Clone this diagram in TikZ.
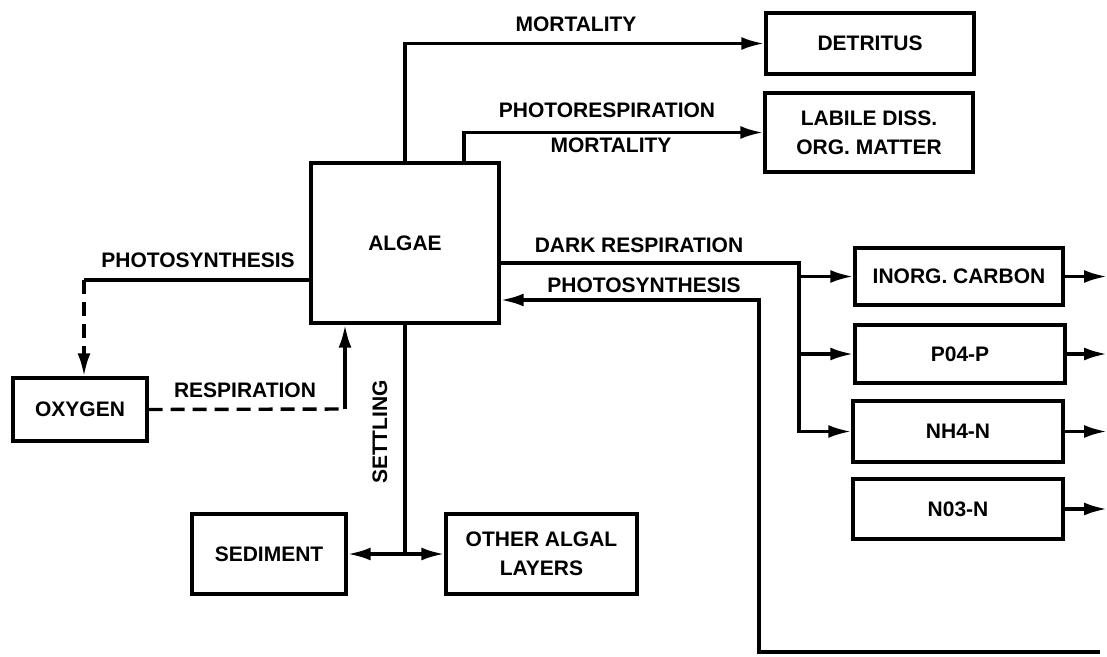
\documentclass[tikz,border=0pt]{standalone}
\usepackage{fontspec}
\setmainfont{Liberation Sans}
\usetikzlibrary{arrows.meta, calc}

\begin{document}
\begin{tikzpicture}[x=1pt, y=-1pt, line width=3.4pt,
  box/.style={draw, rectangle, inner sep=0pt, align=center, font=\fontsize{21}{29}\selectfont\bfseries},
  lbl/.style={inner sep=0pt, font=\fontsize{21}{24}\selectfont\bfseries},
  flow/.style={-{Latex[length=23pt,width=13pt]}},
  broken/.style={dash pattern=on 14pt off 8pt}]

\useasboundingbox (0,0) rectangle (1107,656);

% boxes
\node[box, minimum width=188pt, minimum height=160pt] (algae) at (405,243) {ALGAE};
\node[box, minimum width=208pt, minimum height=61pt] (detritus) at (870,43.5) {DETRITUS};
\node[box, minimum width=208pt, minimum height=79pt] (labile) at (869,132.5) {LABILE DISS.\\ORG. MATTER};
\node[box, minimum width=208pt, minimum height=57pt] (inorg) at (959,276.5) {INORG. CARBON};
\node[box, minimum width=210pt, minimum height=58pt] (po4) at (960,354) {P04-P};
\node[box, minimum width=210pt, minimum height=61pt] (nh4) at (958,431.5) {NH4-N};
\node[box, minimum width=210pt, minimum height=60pt] (no3) at (958,509) {N03-N};
\node[box, minimum width=134pt, minimum height=63pt] (oxygen) at (80,409.5) {OXYGEN};
\node[box, minimum width=154pt, minimum height=80pt] (sediment) at (269,554) {SEDIMENT};
\node[box, minimum width=191pt, minimum height=80pt] (other) at (541.5,554) {OTHER ALGAL\\LAYERS};

% labels
\node[lbl] (lblmort) at (576,24) {MORTALITY};
\node[lbl] (lblphotoresp) at (607,110) {PHOTORESPIRATION};
\node[lbl] (lblmorttwo) at (611,145) {MORTALITY};
\node[lbl] (lbldark) at (639,245) {DARK RESPIRATION};
\node[lbl] (lblphotoright) at (644,285) {PHOTOSYNTHESIS};
\node[lbl] (lblphotoleft) at (198,260) {PHOTOSYNTHESIS};
\node[lbl] (lblresp) at (245,390) {RESPIRATION};
\node[lbl, rotate=90] (lblsettle) at (380,432) {SETTLING};

% turning points
\coordinate (split) at (799,263);
\coordinate (bend) at (759,652);
\coordinate (uptake) at (1100,652);
\coordinate (oxturn) at (84,280);
\coordinate (respturn) at (345,409);
\coordinate (settle) at (405,554);
\coordinate (edge) at (1107,0);

% mortality and photorespiration
\draw[flow] (algae.north) |- (detritus.west);
\draw[flow] ([xshift=59pt]algae.north) |- (labile.west);

% dark respiration
\draw[flow] ([yshift=-20pt]algae.east) -- (split) |- (nh4.west);
\draw[flow] (split |- inorg.west) -- (inorg.west);
\draw[flow] (split |- po4.west) -- (po4.west);
\foreach \b in {inorg,po4,nh4,no3}
  \draw[flow] (\b.east) -- (\b.east -| edge);

% photosynthesis uptake
\draw[flow] (uptake) -- (bend) |- ([yshift=-57pt]algae.east);

% oxygen
\draw ([yshift=-37pt]algae.west) -- (oxturn);
\draw[flow, broken] (oxturn) -- (oxturn |- oxygen.north);
\draw[broken] (oxygen.east) -- (respturn);
\draw[flow] (respturn) -- ([xshift=-60pt]algae.south);

% settling
\draw (algae.south) -- (settle);
\draw[flow] (settle) -- (sediment.east);
\draw[flow] (settle) -- (other.west);
\end{tikzpicture}
\end{document}
